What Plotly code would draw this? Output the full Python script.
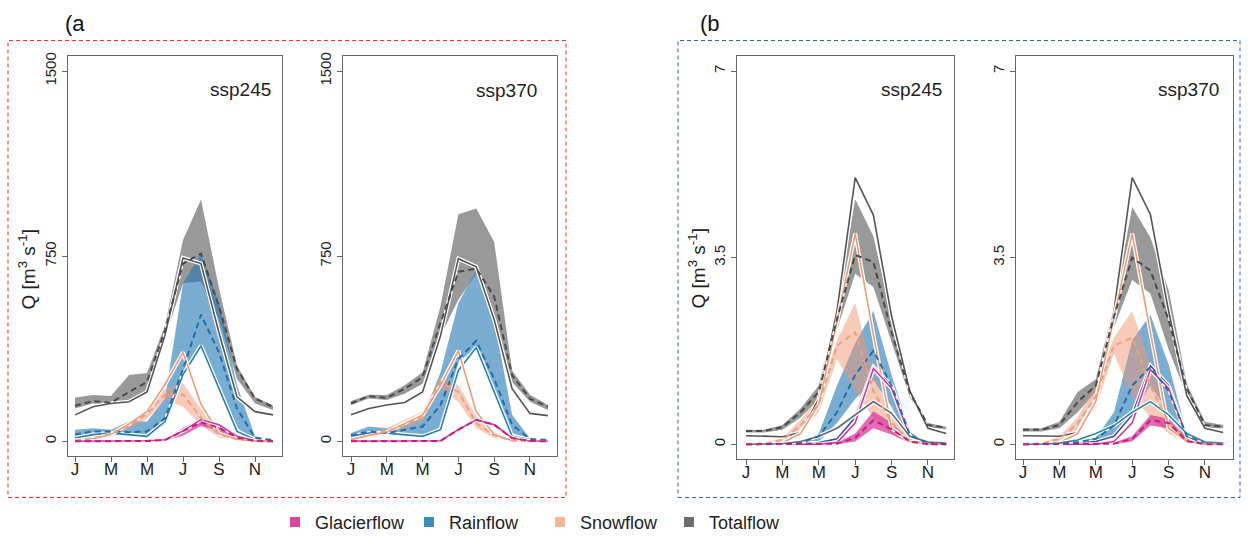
import plotly.graph_objects as go

# ---------------- data ----------------
MONTHS = list(range(1, 13))
TICK_MONTHS = [1, 3, 5, 7, 9, 11]
TICK_LABELS = ["J", "M", "M", "J", "S", "N"]

# (a) ssp245  [m3/s]
a245_total_hi = [177, 187, 183, 269, 277, 470, 816, 980, 620, 307, 180, 144]
a245_total_lo = [133, 153, 147, 167, 200, 420, 640, 647, 493, 253, 153, 127]
a245_total_mean = [144, 163, 156, 200, 240, 450, 720, 760, 547, 293, 173, 140]
a245_total_hist = [107, 140, 153, 160, 200, 430, 743, 720, 440, 180, 120, 107]
a245_rain_hi = [47, 53, 47, 80, 80, 173, 640, 760, 560, 227, 20, 7]
a245_rain_lo = [7, 27, 33, 20, 20, 67, 284, 373, 200, 53, 7, 3]
a245_rain_mean = [27, 40, 40, 37, 40, 93, 292, 513, 360, 133, 13, 5]
a245_rain_hist = [13, 27, 33, 27, 20, 80, 270, 387, 213, 40, 7, 3]
a245_snow_hi = [7, 20, 40, 80, 127, 213, 235, 130, 45, 13, 3, 0]
a245_snow_lo = [0, 5, 20, 50, 90, 170, 140, 65, 15, 3, 0, 0]
a245_snow_mean = [3, 12, 30, 65, 110, 190, 190, 95, 28, 8, 1, 0]
a245_snow_hist = [3, 10, 28, 70, 120, 230, 360, 150, 30, 8, 1, 0]
a245_glac_hi = [0, 0, 0, 0, 2, 8, 55, 92, 68, 22, 2, 0]
a245_glac_lo = [0, 0, 0, 0, 0, 2, 22, 62, 42, 8, 0, 0]
a245_glac_mean = [0, 0, 0, 0, 1, 5, 40, 77, 55, 15, 1, 0]
a245_glac_hist = [1, 1, 1, 1, 2, 6, 42, 88, 67, 20, 2, 1]

# (a) ssp370
a370_total_hi = [163, 189, 187, 227, 280, 547, 920, 943, 807, 287, 189, 147]
a370_total_lo = [147, 173, 167, 193, 233, 427, 573, 680, 493, 240, 160, 127]
a370_total_mean = [153, 183, 176, 213, 260, 480, 687, 700, 587, 267, 173, 140]
a370_total_hist = [107, 133, 147, 157, 200, 427, 740, 707, 493, 213, 113, 104]
a370_rain_hi = [33, 60, 53, 73, 93, 280, 560, 693, 493, 107, 11, 7]
a370_rain_lo = [20, 33, 33, 27, 20, 47, 320, 380, 187, 33, 7, 3]
a370_rain_mean = [24, 40, 33, 47, 60, 147, 333, 407, 253, 67, 9, 5]
a370_rain_hist = [20, 33, 33, 27, 20, 47, 287, 380, 200, 20, 7, 3]
a370_snow_hi = [13, 33, 53, 87, 120, 260, 227, 100, 40, 5, 0, 0]
a370_snow_lo = [3, 13, 27, 53, 80, 213, 160, 53, 13, 2, 0, 0]
a370_snow_mean = [7, 24, 40, 67, 100, 240, 200, 73, 24, 3, 0, 0]
a370_snow_hist = [7, 24, 37, 73, 107, 227, 367, 120, 27, 3, 0, 0]
a370_glac_hi = [0, 0, 0, 0, 0, 3, 55, 93, 72, 18, 2, 0]
a370_glac_lo = [0, 0, 0, 0, 0, 0, 38, 80, 62, 8, 0, 0]
a370_glac_mean = [0, 0, 0, 0, 0, 1, 47, 87, 67, 13, 1, 0]
a370_glac_hist = [1, 1, 1, 1, 1, 2, 47, 87, 67, 13, 1, 1]

# (b) ssp245
b245_total_hi = [0.27, 0.27, 0.36, 0.67, 1.1, 2.55, 4.6, 3.9, 2.4, 1.05, 0.4, 0.33]
b245_total_lo = [0.22, 0.22, 0.27, 0.5, 0.85, 2.15, 3.2, 2.95, 1.9, 0.88, 0.32, 0.28]
b245_total_mean = [0.25, 0.25, 0.32, 0.6, 0.98, 2.35, 3.55, 3.42, 2.1, 0.97, 0.36, 0.31]
b245_total_hist = [0.16, 0.15, 0.14, 0.22, 0.85, 2.5, 5.0, 4.3, 2.4, 1.0, 0.3, 0.2]
b245_rain_hi = [0, 0, 0.01, 0.04, 0.2, 1.1, 1.9, 2.5, 1.3, 0.25, 0.02, 0]
b245_rain_lo = [0, 0, 0, 0.01, 0.05, 0.4, 0.85, 1.2, 0.7, 0.08, 0, 0]
b245_rain_mean = [0, 0, 0.005, 0.02, 0.15, 0.6, 1.3, 1.75, 1.1, 0.18, 0.01, 0]
b245_rain_hist = [0, 0, 0, 0.01, 0.03, 0.1, 0.5, 1.45, 1.1, 0.2, 0.02, 0]
b245_snow_hi = [0, 0.02, 0.12, 0.45, 0.9, 1.95, 2.65, 1.3, 0.55, 0.1, 0.02, 0]
b245_snow_lo = [0, 0, 0.03, 0.25, 0.6, 1.6, 1.0, 0.5, 0.2, 0.03, 0, 0]
b245_snow_mean = [0, 0.01, 0.08, 0.35, 0.75, 1.85, 2.1, 1.0, 0.4, 0.06, 0.01, 0]
b245_snow_hist = [0, 0, 0.03, 0.2, 0.75, 2.3, 3.95, 2.05, 0.3, 0.05, 0.01, 0]
b245_glac_hi = [0, 0, 0, 0, 0, 0.03, 0.2, 0.62, 0.4, 0.08, 0, 0]
b245_glac_lo = [0, 0, 0, 0, 0, 0, 0.05, 0.3, 0.18, 0.02, 0, 0]
b245_glac_mean = [0, 0, 0, 0, 0, 0.01, 0.12, 0.45, 0.28, 0.05, 0, 0]
b245_glac_hist = [0, 0, 0, 0, 0, 0.03, 0.4, 1.42, 1.05, 0.15, 0.01, 0]
b245_other = [0, 0, 0.01, 0.05, 0.15, 0.3, 0.55, 0.8, 0.58, 0.15, 0.04, 0.02]

# (b) ssp370
b370_total_hi = [0.3, 0.3, 0.42, 0.98, 1.22, 2.6, 4.45, 3.88, 2.9, 1.13, 0.42, 0.36]
b370_total_lo = [0.24, 0.24, 0.3, 0.6, 0.98, 2.2, 3.08, 2.83, 1.78, 0.91, 0.3, 0.3]
b370_total_mean = [0.27, 0.27, 0.36, 0.79, 1.1, 2.4, 3.5, 3.26, 2.34, 1.04, 0.36, 0.33]
b370_total_hist = [0.16, 0.15, 0.15, 0.22, 0.85, 2.5, 5.0, 4.31, 2.5, 0.91, 0.3, 0.22]
b370_rain_hi = [0, 0, 0.01, 0.05, 0.12, 0.6, 1.95, 2.43, 1.5, 0.2, 0.02, 0]
b370_rain_lo = [0, 0, 0, 0.01, 0.05, 0.15, 0.55, 1.1, 0.6, 0.05, 0, 0]
b370_rain_mean = [0, 0, 0.01, 0.04, 0.1, 0.35, 1.1, 1.45, 1.0, 0.15, 0.02, 0]
b370_rain_hist = [0, 0, 0, 0.02, 0.05, 0.15, 0.55, 1.47, 1.1, 0.17, 0.02, 0]
b370_snow_hi = [0, 0.02, 0.15, 0.5, 1.1, 2.0, 2.5, 1.5, 0.6, 0.1, 0.02, 0]
b370_snow_lo = [0, 0, 0.05, 0.25, 0.7, 1.7, 0.9, 0.5, 0.2, 0.03, 0, 0]
b370_snow_mean = [0, 0.01, 0.1, 0.38, 0.9, 1.85, 2.0, 1.1, 0.4, 0.06, 0.01, 0]
b370_snow_hist = [0, 0, 0.03, 0.2, 0.8, 2.4, 3.95, 2.1, 0.3, 0.05, 0.01, 0]
b370_glac_hi = [0, 0, 0, 0, 0, 0.03, 0.15, 0.55, 0.48, 0.1, 0, 0]
b370_glac_lo = [0, 0, 0, 0, 0, 0, 0.05, 0.35, 0.3, 0.03, 0, 0]
b370_glac_mean = [0, 0, 0, 0, 0, 0.01, 0.1, 0.45, 0.4, 0.06, 0, 0]
b370_glac_hist = [0, 0, 0, 0, 0, 0.05, 0.4, 1.4, 1.05, 0.15, 0.01, 0]
b370_other = [0, 0, 0.02, 0.08, 0.2, 0.35, 0.6, 0.8, 0.55, 0.2, 0.04, 0.02]

LEGEND_NAMES = ["Glacierflow", "Rainflow", "Snowflow", "Totalflow"]
PANEL_LABELS = ["ssp245", "ssp370", "ssp245", "ssp370"]
YTICKS_A = [0, 750, 1500]
YTICKS_B = [0, 3.5, 7]
YTICKTEXT_A = ["0", "750", "1500"]
YTICKTEXT_B = ["0", "3.5", "7"]

# ---------------- styles ----------------
BAND = {"total": "rgba(85,85,85,0.6)", "rain": "rgba(31,120,180,0.6)",
        "snow": "rgba(240,150,115,0.5)", "glac": "rgba(215,45,150,0.7)"}
MEAN_C = {"total": "#4a4a4a", "rain": "#1f6fae", "snow": "#eea080", "glac": "#c2207e"}
HIST_C = {"total": "#555555", "rain": "#2b7db5", "snow": "#ee9b7a", "glac": "#d9349b"}
LEG_C = ["#d9479f", "#3a8bc4", "#f6b69a", "#6e6e6e"]
FONT = "Arial, Liberation Sans, sans-serif"

W, H = 1250, 541
def px(x): return x / W
def py(y): return 1 - y / H

panels = [
    dict(n=1, d=dict(total=(a245_total_hi, a245_total_lo, a245_total_mean, a245_total_hist),
                     rain=(a245_rain_hi, a245_rain_lo, a245_rain_mean, a245_rain_hist),
                     snow=(a245_snow_hi, a245_snow_lo, a245_snow_mean, a245_snow_hist),
                     glac=(a245_glac_hi, a245_glac_lo, a245_glac_mean, a245_glac_hist)),
         other=None, frame=(68, 282, 53, 458), xr=[0.611, 12.5], yr=[-60, 1560],
         yt=(YTICKS_A, YTICKTEXT_A), lab=(273, 87), navy=False),
    dict(n=2, d=dict(total=(a370_total_hi, a370_total_lo, a370_total_mean, a370_total_hist),
                     rain=(a370_rain_hi, a370_rain_lo, a370_rain_mean, a370_rain_hist),
                     snow=(a370_snow_hi, a370_snow_lo, a370_snow_mean, a370_snow_hist),
                     glac=(a370_glac_hi, a370_glac_lo, a370_glac_mean, a370_glac_hist)),
         other=None, frame=(343, 557, 53, 458), xr=[0.553, 12.51], yr=[-60, 1560],
         yt=(YTICKS_A, YTICKTEXT_A), lab=(539, 88), navy=False),
    dict(n=3, d=dict(total=(b245_total_hi, b245_total_lo, b245_total_mean, b245_total_hist),
                     rain=(b245_rain_hi, b245_rain_lo, b245_rain_mean, b245_rain_hist),
                     snow=(b245_snow_hi, b245_snow_lo, b245_snow_mean, b245_snow_hist),
                     glac=(b245_glac_hi, b245_glac_lo, b245_glac_mean, b245_glac_hist)),
         other=(b245_other, "#5c6a74"), frame=(737, 954, 53, 461), xr=[0.505, 12.43],
         yr=[-0.278, 7.278], yt=(YTICKS_B, YTICKTEXT_B), lab=(944, 87), navy=True),
    dict(n=4, d=dict(total=(b370_total_hi, b370_total_lo, b370_total_mean, b370_total_hist),
                     rain=(b370_rain_hi, b370_rain_lo, b370_rain_mean, b370_rain_hist),
                     snow=(b370_snow_hi, b370_snow_lo, b370_snow_mean, b370_snow_hist),
                     glac=(b370_glac_hi, b370_glac_lo, b370_glac_mean, b370_glac_hist)),
         other=(b370_other, "#2e86a8"), frame=(1016, 1233, 53, 461), xr=[0.615, 12.54],
         yr=[-0.278, 7.278], yt=(YTICKS_B, YTICKTEXT_B), lab=(1221, 87), navy=True),
]

fig = go.Figure()
ORDER = ["total", "rain", "snow", "glac"]
layout_axes = {}

for p in panels:
    n = p["n"]
    xa = "x" if n == 1 else f"x{n}"
    ya = "y" if n == 1 else f"y{n}"
    d = p["d"]
    # bands
    for c in ORDER:
        hi, lo, mean, hist = d[c]
        fig.add_trace(go.Scatter(x=MONTHS + MONTHS[::-1], y=list(hi) + list(lo)[::-1],
                                 fill="toself", fillcolor=BAND[c], mode="lines",
                                 line=dict(width=0), xaxis=xa, yaxis=ya,
                                 showlegend=False, hoverinfo="skip"))
    # solid (historical) lines with white halo
    solids = []
    for c in ORDER:
        hi, lo, mean, hist = d[c]
        col = HIST_C[c]
        if p["navy"] and c == "rain":
            col = "#3f4ca8"
        solids.append((hist, col))
    if p["other"] is not None:
        solids.append(p["other"])
    for vals, col in solids:
        fig.add_trace(go.Scatter(x=MONTHS, y=vals, mode="lines",
                                 line=dict(color="white", width=4),
                                 xaxis=xa, yaxis=ya, showlegend=False, hoverinfo="skip"))
        fig.add_trace(go.Scatter(x=MONTHS, y=vals, mode="lines",
                                 line=dict(color=col, width=1.6),
                                 xaxis=xa, yaxis=ya, showlegend=False, hoverinfo="skip"))
    # dashed means
    for c in ORDER:
        hi, lo, mean, hist = d[c]
        fig.add_trace(go.Scatter(x=MONTHS, y=mean, mode="lines",
                                 line=dict(color=MEAN_C[c], width=2, dash="6px,4px"),
                                 xaxis=xa, yaxis=ya, showlegend=False, hoverinfo="skip"))

    x0, x1, y0, y1 = p["frame"]
    layout_axes["xaxis" if n == 1 else f"xaxis{n}"] = dict(
        domain=[px(x0), px(x1)], range=p["xr"], anchor=ya,
        tickmode="array", tickvals=TICK_MONTHS, ticktext=TICK_LABELS,
        showline=True, mirror=True, linecolor="#666666", linewidth=1,
        ticks="outside", ticklen=5, tickcolor="#666666", showgrid=False, zeroline=False,
        ticklabelstandoff=-7,
        tickfont=dict(family=FONT, size=17, color="#222222"))
    layout_axes["yaxis" if n == 1 else f"yaxis{n}"] = dict(
        domain=[py(y1), py(y0)], range=p["yr"], anchor=xa,
        tickmode="array", tickvals=p["yt"][0], ticktext=p["yt"][1], tickangle=-90,
        showline=True, mirror=True, linecolor="#666666", linewidth=1,
        ticks="outside", ticklen=5, tickcolor="#666666", showgrid=False, zeroline=False,
        tickfont=dict(family=FONT, size=15, color="#222222"))

# legend traces (separate legends for exact placement)
LEG_X = [275, 409, 540, 669]
for i, (name, col) in enumerate(zip(LEGEND_NAMES, LEG_C)):
    lg = "legend" if i == 0 else f"legend{i+1}"
    fig.add_trace(go.Scatter(x=[None], y=[None], mode="markers", name=name,
                             marker=dict(symbol="square", size=10, color=col),
                             legend=lg, showlegend=True, xaxis="x", yaxis="y"))
    layout_axes[lg] = dict(x=px(LEG_X[i]), y=py(525), xanchor="left", yanchor="middle",
                           orientation="h", bgcolor="rgba(0,0,0,0)", borderwidth=0,
                           font=dict(family=FONT, size=18, color="#222222"))

annotations = []
for p in panels:
    lx, ly = p["lab"]
    annotations.append(dict(x=px(lx), y=py(ly), xref="paper", yref="paper",
                            text=PANEL_LABELS[p["n"] - 1], showarrow=False,
                            xanchor="right", yanchor="middle",
                            font=dict(family=FONT, size=19, color="#222222")))
for (tx, ty) in [(27, 269), (697, 268)]:
    annotations.append(dict(x=px(tx), y=py(ty), xref="paper", yref="paper",
                            text="Q [m<sup>3</sup> s<sup>-1</sup>]", textangle=-90,
                            showarrow=False, xanchor="center", yanchor="middle",
                            font=dict(family=FONT, size=19, color="#222222")))
for (tx, ty, t) in [(75, 20, "(a"), (710, 20, "(b")]:
    annotations.append(dict(x=px(tx), y=py(ty), xref="paper", yref="paper", text=t,
                            showarrow=False, xanchor="center", yanchor="middle",
                            font=dict(family=FONT, size=22, color="#111111")))

shapes = [
    dict(type="rect", xref="paper", yref="paper", x0=px(8), x1=px(566), y0=py(500), y1=py(37),
         line=dict(color="#ff2a2a", width=1, dash="4px,3px"), fillcolor="rgba(0,0,0,0)"),
    dict(type="rect", xref="paper", yref="paper", x0=px(678), x1=px(1240), y0=py(500), y1=py(37),
         line=dict(color="#3c6496", width=1, dash="4px,3px"), fillcolor="rgba(0,0,0,0)"),
]

fig.update_layout(width=W, height=H, margin=dict(l=0, r=0, t=0, b=0),
                  paper_bgcolor="white", plot_bgcolor="white",
                  annotations=annotations, shapes=shapes, **layout_axes)

fig.write_html("out.html", config={"displayModeBar": False},
               post_script="document.body.style.margin='0';document.body.style.overflow='hidden';")
